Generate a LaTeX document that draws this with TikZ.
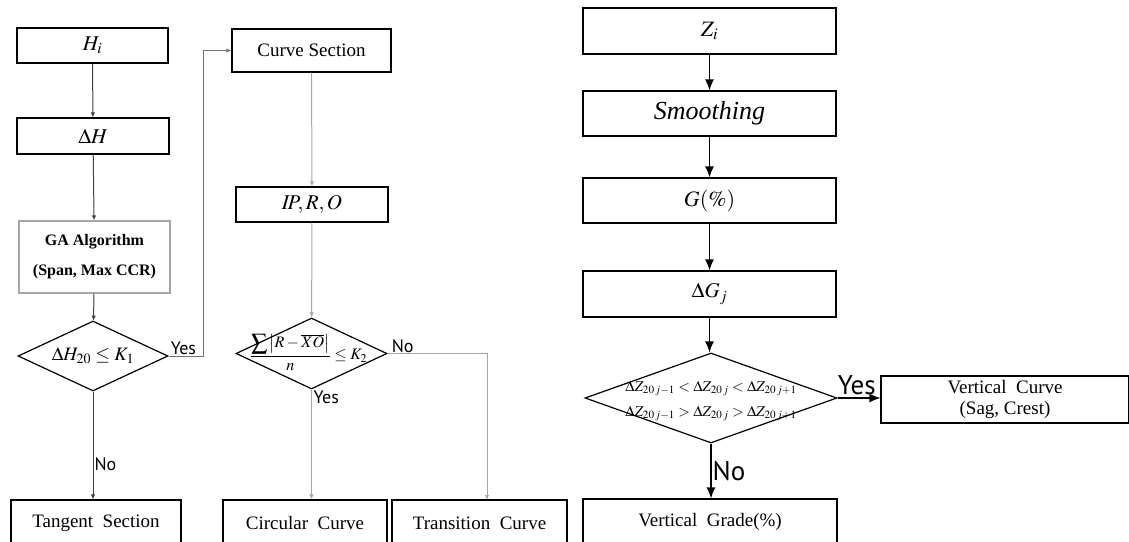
\documentclass[tikz,border=0pt]{standalone}
\usepackage{mathptmx}
\usepackage[no-math]{fontspec}
\setmainfont{Liberation Serif}
\newfontfamily\answerfont{PT Sans}
\usetikzlibrary{shapes.geometric,arrows.meta}

\definecolor{linedark}{rgb}{0.250000, 0.250000, 0.250000}
\definecolor{linelight}{rgb}{0.650000, 0.650000, 0.650000}
\definecolor{linemid}{rgb}{0.450000, 0.450000, 0.450000}

\tikzset{
  procbox/.style={draw=black, rectangle, line width=1.2pt, inner sep=0pt, font=\fontsize{19}{21}\selectfont},
  gabox/.style={procbox, draw=linelight, font=\bfseries\fontsize{16}{30}\selectfont, align=center},
  decision/.style={draw=black, diamond, line width=1.2pt, inner sep=0pt},
  flowl/.style={draw=linedark, line width=1pt, -{Latex[length=5pt,width=4.5pt]}},
  flowc/.style={draw=linelight, line width=1pt, -{Latex[length=5pt,width=4.5pt]}},
  flowr/.style={draw=black, line width=1.2pt, -{Latex[length=11pt,width=9pt]}},
  ansl/.style={font=\answerfont\fontsize{18}{20}\selectfont, inner sep=1pt},
  ansr/.style={font=\answerfont\fontsize{27}{29}\selectfont, inner sep=1pt}
}

\begin{document}
\begin{tikzpicture}[x=1pt,y=-1pt]
\useasboundingbox (0,0) rectangle (1129,541);
% horizontal column
\node[procbox, minimum width=151, minimum height=35] (hi) at (92.5,45.5) {\fontsize{21}{23}\selectfont$H_i$};
\node[procbox, minimum width=152, minimum height=36] (dh) at (93,136) {\fontsize{21}{23}\selectfont$\Delta H$};
\node[gabox, minimum width=151, minimum height=72] (ga) at (94.5,257) {GA Algorithm\\(Span, Max CCR)};
\node[decision, aspect=2.14, minimum width=150, minimum height=70] (d1) at (93,356) {\fontsize{19}{21}\selectfont$\Delta H_{20}\le K_1$};
\node[procbox, minimum width=170, minimum height=46] (tan) at (96,523) {Tangent\ \ Section};
\draw[flowl] (hi) -- (dh);
\draw[flowl] (dh) -- (ga);
\draw[flowl] (ga) -- (d1);
\draw[flowl] (d1.south) -- (d1.south |- tan.north) node[ansl, pos=0.67, anchor=west] (no1) {No};
% curve column
\node[procbox, minimum width=159, minimum height=43] (cs) at (311.5,50.5) {Curve Section};
\node[procbox, minimum width=152, minimum height=35] (ipro) at (312,204.5) {\fontsize{21}{23}\selectfont$I\!P, R, O$};
\node[decision, minimum width=151, minimum height=71] (d2) at (311.5,353.5) {};
\node[font=\fontsize{16}{18}\selectfont] (d2t) at ([xshift=-3pt,yshift=1pt]d2.center) {$\displaystyle\frac{\displaystyle\sum\left|R-\overline{XO}\right|}{n}\le K_2$};
\node[procbox, minimum width=164, minimum height=46] (circ) at (305,523) {Circular\ \ Curve};
\node[procbox, minimum width=175, minimum height=46] (trans) at (479.5,523) {Transition\ \ Curve};
\coordinate (tin) at (487,500);
\draw[draw=linemid, line width=1pt, -{Latex[length=5pt,width=4.5pt]}] (d1.east) -- ++(35,0) |- (cs.west);
\node[ansl, anchor=south west] (yes1) at ([xshift=1pt]d1.east) {Yes};
\draw[flowc] (cs) -- (ipro);
\draw[flowc] (ipro) -- (d2);
\draw[flowc] (d2.south) -- (d2.south |- circ.north);
\node[ansl, anchor=north west] (yes2) at ([xshift=1pt]d2.south) {Yes};
\draw[flowc] (d2.east) -| (tin);
\node[ansl, anchor=south west] (no2) at ([xshift=3pt]d2.east) {No};
% vertical column
\node[procbox, minimum width=253, minimum height=46] (zi) at (709.5,31) {\fontsize{22}{24}\selectfont$Z_i$};
\node[procbox, minimum width=253, minimum height=45] (sm) at (709.5,113.5) {\fontsize{26}{28}\selectfont\itshape Smoothing};
\node[procbox, minimum width=253, minimum height=45] (gp) at (709.5,200.5) {\fontsize{22}{24}\selectfont$G(\%)$};
\node[procbox, minimum width=253, minimum height=46] (dg) at (709.5,294) {\fontsize{21}{23}\selectfont$\Delta G_j$};
\node[decision, minimum width=252, minimum height=90] (d3) at (711,398) {};
\node[align=center, font=\fontsize{15}{25}\selectfont] (d3t) at ([yshift=-3pt]d3.center)
  {$\Delta Z_{20\,j-1}<\Delta Z_{20\,j}<\Delta Z_{20\,j+1}$\\$\Delta Z_{20\,j-1}>\Delta Z_{20\,j}>\Delta Z_{20\,j+1}$};
\node[procbox, align=center, minimum width=248, minimum height=47] (vc) at (1005,399.5) {Vertical\ \ Curve\\(Sag, Crest)};
\node[procbox, minimum width=254, minimum height=46] (vg) at (710,522) {Vertical\ \ Grade(\%)};
\draw[flowr] (zi) -- (sm);
\draw[flowr] (sm) -- (gp);
\draw[flowr] (gp) -- (dg);
\draw[flowr] (dg.south) -- (dg.south |- d3.north);
\draw[flowr] (d3.east) -- (d3.east -| vc.west);
\node[ansr, anchor=south west] (yes3) at ([xshift=-1pt,yshift=2pt]d3.east) {Yes};
\draw[flowr] (d3.south) -- (d3.south |- vg.north) node[ansr, pos=0.5, anchor=west] (no3) {No};
\end{tikzpicture}
\end{document}
